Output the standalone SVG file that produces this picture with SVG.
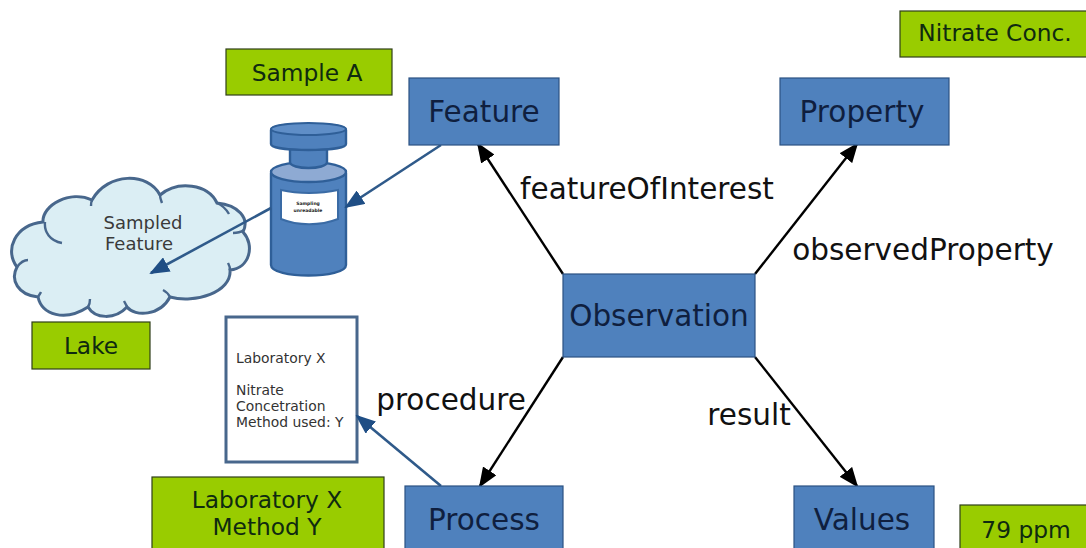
<svg xmlns="http://www.w3.org/2000/svg" width="1086" height="548" viewBox="0 0 1086 548">
<style>
text{font-family:"DejaVu Sans",Verdana,sans-serif;text-anchor:middle}
.b{fill:#4f81bd;stroke:#2c5282;stroke-width:1.2}
.g{fill:#99cc00;stroke:#2f3f1a;stroke-width:1.2}
.bt{font-size:29.500px;fill:#0f1f3f}
.gt{font-size:23.300px;fill:#0f2a10}
.l{font-size:29.500px;fill:#111}
.k{stroke:#000;stroke-width:2.4;fill:none}
.n{stroke:#2f5a8a;stroke-width:2.6;fill:none}
.s{font-size:13.900px;fill:#333;text-anchor:start}
</style>
<defs>
<marker id="ak" markerUnits="userSpaceOnUse" markerWidth="20" markerHeight="16" refX="18" refY="8" orient="auto"><path d="M0 0L20 8L0 16Z" fill="#000"/></marker>
<marker id="an" markerUnits="userSpaceOnUse" markerWidth="20" markerHeight="16" refX="18" refY="8" orient="auto"><path d="M0 0L20 8L0 16Z" fill="#1f4e85"/></marker>
</defs>
<rect width="1086" height="548" fill="#fff"/>
<g id="cloud">
<path d="M43 222C42 205 70 190 92 200C108 172 148 172 160 195C178 180 208 184 217 203C238 205 250 218 243 232C255 245 250 268 230 270C232 292 195 304 170 297C160 316 135 317 127 307C115 320 95 319 88 307C65 322 42 315 38 297C18 295 10 280 17 267C4 250 15 225 43 222Z" fill="#dbeef4" stroke="#48678c" stroke-width="3"/>
<path d="M45 222C44 232 50 241 62 243M17 267C20 263 24 260 28 260M160 195C160 198 161 200 162 203M92 200C91 202 91 204 91 206M217 203C222 205 226 209 229 214M233 233C238 233 241 232 244 230M230 270C230 266 229 265 228 263M170 297C168 293 165 291 163 290M127 307C126 304 125 303 124 301M88 307C90 304 90 302 90 299M38 297C39 295 40 294 41 292" fill="none" stroke="#48678c" stroke-width="2.400"/>
<text x="143" y="229" font-size="18" fill="#3a3a3a">Sampled</text>
<text x="139" y="250" font-size="18" fill="#3a3a3a">Feature</text>
</g>
<g id="bottle">
<path d="M271 173C271 163 346 163 346 173V265C346 279 271 279 271 265Z" fill="#4f81bd" stroke="#2f5f98" stroke-width="2.400"/>
<ellipse cx="308.500" cy="172" rx="37.500" ry="10" fill="#8eaad3" stroke="#2f5f98" stroke-width="2.400"/>
<path d="M290 148H327V162C327 170 290 170 290 162Z" fill="#4f81bd" stroke="#2f5f98" stroke-width="2.400"/>
<path d="M271 130C271 122 346 122 346 130V144C346 152 271 152 271 144Z" fill="#4f81bd" stroke="#2f5f98" stroke-width="2.400"/>
<ellipse cx="308.500" cy="129" rx="37.500" ry="6" fill="#5f8ec7" stroke="#2f5f98" stroke-width="2"/>
<path d="M281 190C298 194 320 194 338 190V219C320 226 298 226 281 219Z" fill="#fff" stroke="#3a6ba5" stroke-width="2"/>
<text x="308" y="205" font-size="4.500" font-weight="bold" fill="#222">Sampling</text>
<text x="308" y="212" font-size="4.500" font-weight="bold" fill="#222">unreadable</text>
</g>
<g id="report">
<rect x="226" y="317" width="131" height="145" fill="#fff" stroke="#48678c" stroke-width="3"/>
<text class="s" x="236" y="363">Laboratory X</text>
<text class="s" x="236" y="395">Nitrate</text>
<text class="s" x="236" y="411">Concetration</text>
<text class="s" x="236" y="427">Method used: Y</text>
</g>
<g id="connectors">
<path class="k" marker-end="url(#ak)" d="M563 274L478 144"/>
<path class="k" marker-end="url(#ak)" d="M755 274L857 144"/>
<path class="k" marker-end="url(#ak)" d="M563 357L480 486"/>
<path class="k" marker-end="url(#ak)" d="M755 357L857 486"/>
<path class="n" marker-end="url(#an)" d="M441 145L346 207"/>
<path class="n" marker-end="url(#an)" d="M271 208L151 273"/>
<path class="n" marker-end="url(#an)" d="M441 486L357 416"/>
</g>
<g id="feature"><rect class="b" x="409" y="78" width="150" height="67"/><text class="bt" x="484" y="122">Feature</text></g>
<g id="property"><rect class="b" x="780" y="78" width="169" height="67"/><text class="bt" x="862" y="122">Property</text></g>
<g id="observation"><rect class="b" x="563" y="274" width="192" height="83"/><text class="bt" x="659" y="326">Observation</text></g>
<g id="process"><rect class="b" x="405" y="486" width="158" height="68"/><text class="bt" x="484" y="530">Process</text></g>
<g id="values"><rect class="b" x="794" y="486" width="140" height="68"/><text class="bt" x="862" y="530">Values</text></g>
<g id="sample-a"><rect class="g" x="226" y="49" width="166" height="46"/><text class="gt" x="307" y="81">Sample A</text></g>
<g id="nitrate"><rect class="g" x="900" y="11" width="190" height="46"/><text class="gt" x="995" y="41">Nitrate Conc.</text></g>
<g id="lake"><rect class="g" x="32" y="322" width="118" height="47"/><text class="gt" x="91" y="354">Lake</text></g>
<g id="lab"><rect class="g" x="152" y="477" width="232" height="75"/><text class="gt" x="267" y="508">Laboratory X</text><text class="gt" x="267" y="535">Method Y</text></g>
<g id="ppm"><rect class="g" x="960" y="505" width="130" height="47"/><text class="gt" x="1026" y="538">79 ppm</text></g>
<g id="labels">
<text class="l" x="647" y="199">featureOfInterest</text>
<text class="l" x="923" y="260">observedProperty</text>
<text class="l" x="451" y="410">procedure</text>
<text class="l" x="749" y="425">result</text>
</g>
</svg>
